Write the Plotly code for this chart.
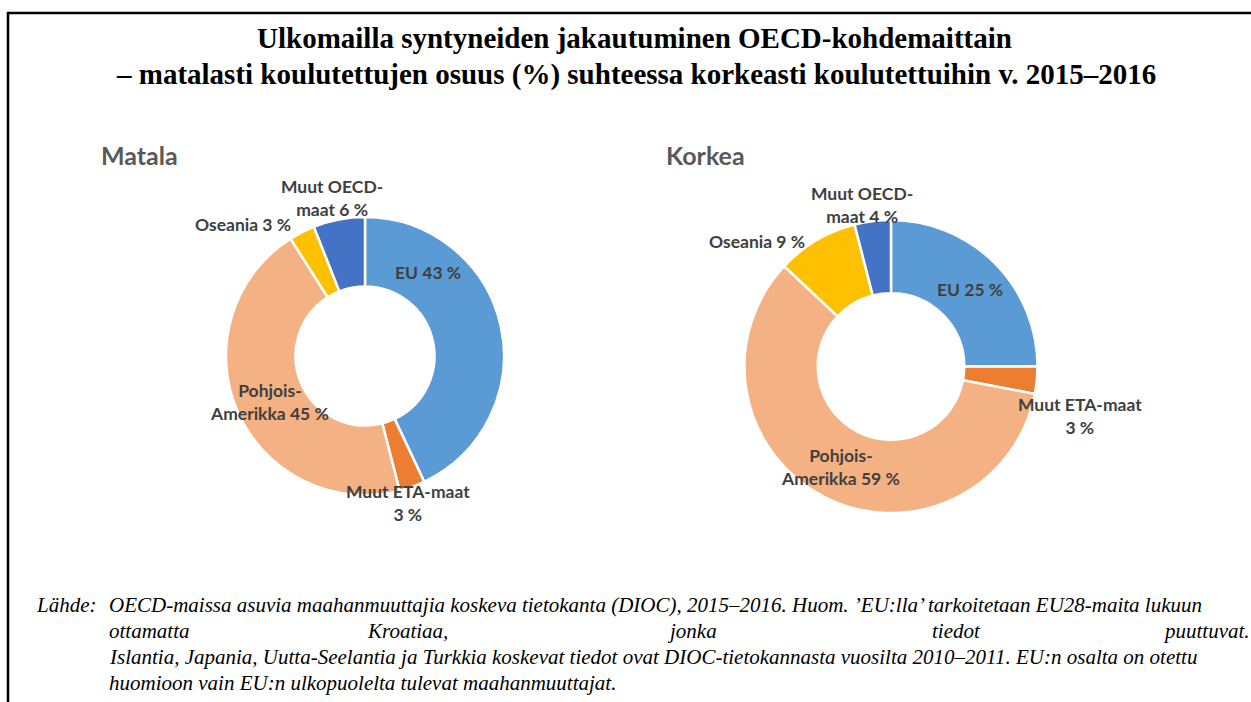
import plotly.graph_objects as go

W, H = 1251, 702

categories = ["EU", "Muut ETA-maat", "Pohjois-Amerikka", "Oseania", "Muut OECD-maat"]
matala_values = [43, 3, 45, 3, 6]
korkea_values = [25, 3, 59, 9, 4]
colors = ["#5B9BD5", "#ED7D31", "#F4B183", "#FFC000", "#4472C4"]

matala_labels = ["EU 43 %", "Muut ETA-maat<br>3 %", "Pohjois-<br>Amerikka 45 %", "Oseania 3 %", "Muut OECD-<br>maat 6 %"]
korkea_labels = ["EU 25 %", "Muut ETA-maat<br>3 %", "Pohjois-<br>Amerikka 59 %", "Oseania 9 %", "Muut OECD-<br>maat 4 %"]

title_lines = ["Ulkomailla syntyneiden jakautuminen OECD-kohdemaittain",
               "– matalasti koulutettujen osuus (%) suhteessa korkeasti koulutettuihin v. 2015–2016"]
subtitles = ["Matala", "Korkea"]

def px(x):
    return x / W

def py(y):
    return 1 - y / H

fig = go.Figure()

for vals, dom in [(matala_values, ([226, 504], [217, 495])),
                  (korkea_values, ([744, 1038], [220, 513]))]:
    fig.add_trace(go.Pie(
        labels=categories, values=vals, hole=0.5, sort=False,
        direction="clockwise", rotation=0,
        marker=dict(colors=colors, line=dict(color="white", width=2.5)),
        textinfo="none", hoverinfo="label+percent", showlegend=False,
        domain=dict(x=[px(dom[0][0]), px(dom[0][1])],
                    y=[py(dom[1][1]), py(dom[1][0])]),
    ))

annotations = []
label_font = dict(family="Lato", size=17.5, color="#404040")
left_pos = [(428, 273), (408, 503), (269, 402), (243, 224), (332, 198)]
right_pos = [(970, 289), (1080, 416), (840, 467), (757, 242), (862, 205)]
for labs, poss in [(matala_labels, left_pos), (korkea_labels, right_pos)]:
    for t, (x, y) in zip(labs, poss):
        annotations.append(dict(text="<b>%s</b>" % t, x=px(x), y=py(y), xref="paper", yref="paper",
                                showarrow=False, font=label_font, xanchor="center", yanchor="middle",
                                align="center"))

for t, (x, y) in zip(subtitles, [(99, 155), (664, 155)]):
    annotations.append(dict(text="<b>%s</b>" % t, x=px(x), y=py(y), xref="paper", yref="paper",
                            showarrow=False, font=dict(family="Lato", size=25, color="#595959"),
                            xanchor="left", yanchor="middle"))

for t, (x, y) in zip(title_lines, [(634, 38), (636, 75)]):
    annotations.append(dict(text="<b>%s</b>" % t, x=px(x), y=py(y), xref="paper", yref="paper",
                            showarrow=False, font=dict(family="Liberation Serif", size=29, color="black"),
                            xanchor="center", yanchor="middle"))

foot_font = dict(family="Liberation Serif", size=21, color="black")
annotations.append(dict(text="<i>Lähde:</i>", x=px(34), y=py(605), xref="paper", yref="paper",
                        showarrow=False, font=foot_font, xanchor="left", yanchor="middle"))
foot_lines = [
    ("OECD-maissa asuvia maahanmuuttajia koskeva tietokanta (DIOC), 2015–2016. Huom. ’EU:lla’ tarkoitetaan EU28-maita lukuun", 605),
    ("Islantia, Japania, Uutta-Seelantia ja Turkkia koskevat tiedot ovat DIOC-tietokannasta vuosilta 2010–2011. EU:n osalta on otettu", 657),
    ("huomioon vain EU:n ulkopuolelta tulevat maahanmuuttajat.", 683),
]
for t, y in foot_lines:
    annotations.append(dict(text="<i>%s</i>" % t, x=px(107), y=py(y), xref="paper", yref="paper",
                            showarrow=False, font=foot_font, xanchor="left", yanchor="middle"))
just_words = [("ottamatta", 107, "left"), ("Kroatiaa,", 365, "left"), ("jonka", 665, "left"),
              ("tiedot", 930, "left"), ("puuttuvat.", 1252, "right")]
for t, x, anc in just_words:
    annotations.append(dict(text="<i>%s</i>" % t, x=px(x), y=py(631), xref="paper", yref="paper",
                            showarrow=False, font=foot_font, xanchor=anc, yanchor="middle"))

shapes = [
    dict(type="line", xref="paper", yref="paper", x0=px(7), x1=px(1260), y0=py(13), y1=py(13),
         line=dict(color="black", width=2.5)),
    dict(type="line", xref="paper", yref="paper", x0=px(8), x1=px(8), y0=py(12), y1=py(710),
         line=dict(color="black", width=2.5)),
]

fig.update_layout(
    width=W, height=H, margin=dict(l=0, r=0, t=0, b=0),
    paper_bgcolor="white", plot_bgcolor="white",
    annotations=annotations, shapes=shapes,
)

fig.write_html("out.html", config={"displayModeBar": False},
               post_script="document.body.style.margin='0px';document.body.style.overflow='hidden';")
